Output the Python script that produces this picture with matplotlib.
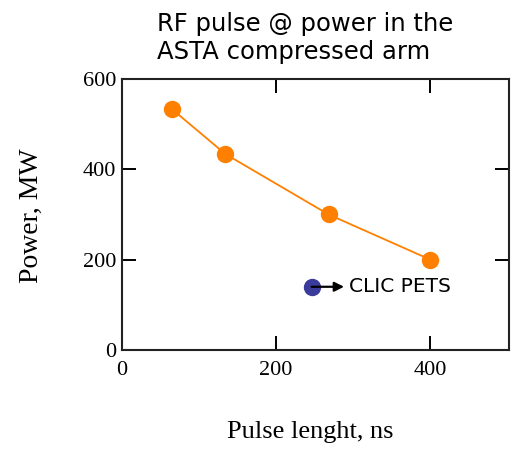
import matplotlib
matplotlib.use("Agg")
import matplotlib.pyplot as plt

# Pulse length (ns) vs. RF power (MW) in the compressed arm
pulse_ns = [65, 134, 268, 400]
power_mw = [533, 434, 300, 200]

# Reference point
clic_ns = [246]
clic_mw = [140]
clic_label = "CLIC PETS"

x_ticks = [0, 200, 400]
y_ticks = [0, 200, 400, 600]

fig = plt.figure(figsize=(5.11, 4.54), dpi=100)
ax = fig.add_axes([122 / 511, 1 - 350 / 454, 387 / 511, 271 / 454])

ax.plot(pulse_ns, power_mw, color="#ff8000", lw=1.3, marker="o",
        markersize=11.5, markerfacecolor="#ff8000", markeredgecolor="#ff8000",
        zorder=3)
ax.plot(clic_ns, clic_mw, "o", color="#3b3b9c", markersize=11.5, zorder=3)
ax.annotate("", xy=(clic_ns[0] + 42, clic_mw[0]), xytext=(clic_ns[0], clic_mw[0]),
            arrowprops=dict(arrowstyle="-|>", color="black", lw=1.6,
                            mutation_scale=14, shrinkA=0, shrinkB=0),
            zorder=4)
ax.text(clic_ns[0] + 48, clic_mw[0], clic_label, fontsize=14.5,
        family="DejaVu Sans", va="center", ha="left")

ax.set_xlim(0, 502)
ax.set_ylim(0, 600)
ax.set_xticks(x_ticks)
ax.set_yticks(y_ticks)
ax.tick_params(direction="in", length=10, width=1.4, top=True, right=True,
               labelsize=16)
ax.tick_params(axis="x", pad=8)
ax.tick_params(axis="y", pad=4)
for lab in ax.get_xticklabels() + ax.get_yticklabels():
    lab.set_family("Liberation Serif")
for sp in ax.spines.values():
    sp.set_linewidth(1.5)
    sp.set_color("#222222")

fig.text(31 / 511, 1 - 216 / 454, "Power, MW", rotation=90, ha="center",
         va="center", fontsize=20, family="Liberation Serif")
fig.text(310 / 511, 1 - 432 / 454, "Pulse lenght, ns", ha="center",
         va="center", fontsize=19, family="Liberation Serif")
fig.text(157 / 511, 1 - 38 / 454, "RF pulse @ power in the\nASTA compressed arm",
         ha="left", va="center", fontsize=17.5, family="DejaVu Sans",
         linespacing=1.2)

fig.savefig("out.png", dpi=100)
